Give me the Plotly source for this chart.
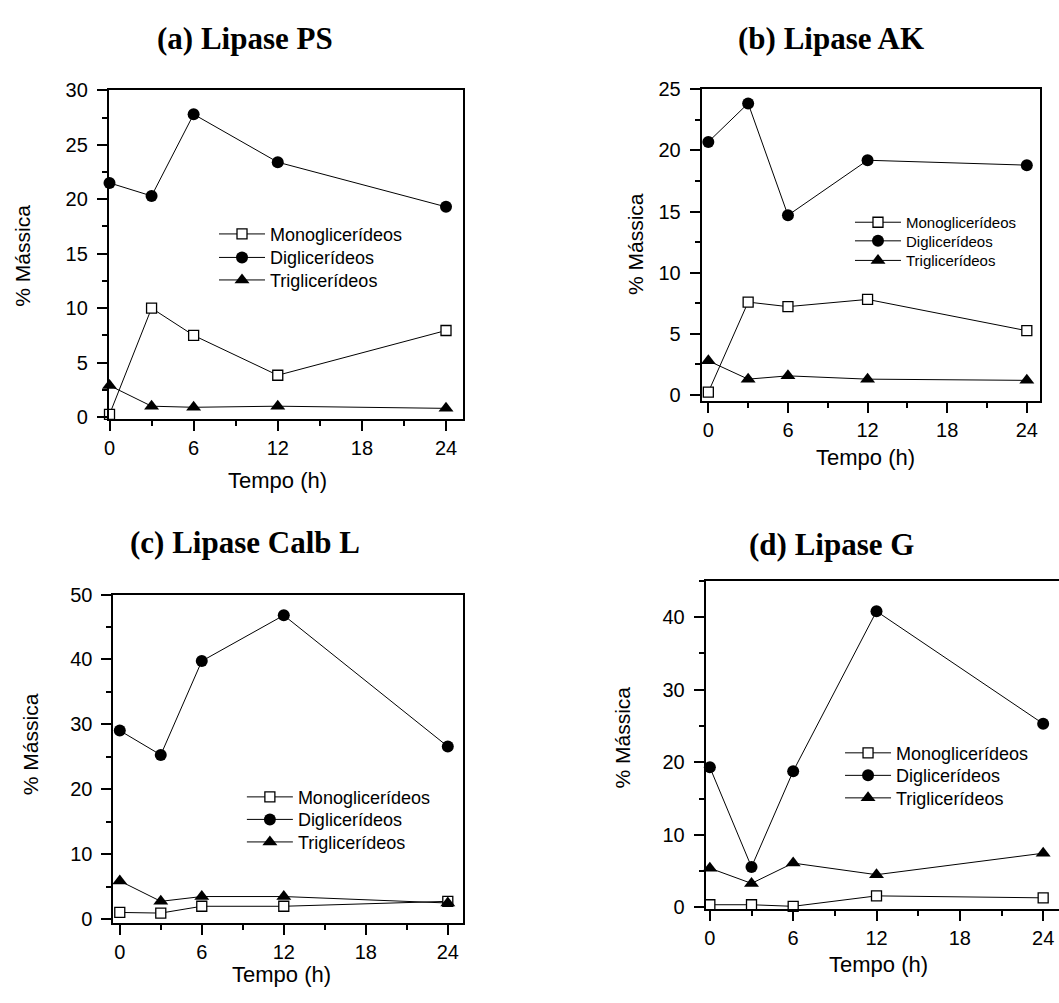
import plotly.graph_objects as go

W, H = 1059, 1003

tempo = [0, 3, 6, 12, 24]
series_names = ["Monoglicerídeos", "Diglicerídeos", "Triglicerídeos"]

# (a) Lipase PS
ps_mono = [0.24, 10.0, 7.5, 3.84, 7.95]
ps_di = [21.5, 20.3, 27.8, 23.4, 19.3]
ps_tri = [2.9, 1.0, 0.9, 1.0, 0.8]
# (b) Lipase AK
ak_mono = [0.24, 7.6, 7.23, 7.82, 5.26]
ak_di = [20.7, 23.85, 14.7, 19.2, 18.8]
ak_tri = [2.8, 1.3, 1.57, 1.3, 1.2]
# (c) Lipase Calb L
calb_mono = [1.05, 0.95, 2.0, 2.0, 2.76]
calb_di = [29.05, 25.3, 39.75, 46.8, 26.6]
calb_tri = [5.9, 2.76, 3.5, 3.5, 2.5]
# (d) Lipase G
g_mono = [0.36, 0.36, 0.14, 1.58, 1.31]
g_di = [19.3, 5.56, 18.76, 40.8, 25.3]
g_tri = [5.4, 3.3, 6.1, 4.5, 7.46]

panel_titles = ["(a) Lipase PS", "(b) Lipase AK", "(c) Lipase Calb L", "(d) Lipase G"]
x_title = "Tempo (h)"
y_title = "% Mássica"

panels = [
    dict(data=[ps_mono, ps_di, ps_tri], box=(104.3, 460, 81, 417), xr=[-0.05, 25.2], yr=[-0.2, 30],
         dy=5, minor_dy=2.5, legend=dict(x=242, rows=[228, 252, 275], size=18), title=(241, 28),
         ytitle=(18, 250), xtitle=(274, 480), mirror_right=True),
    dict(data=[ak_mono, ak_di, ak_tri], box=(700, 1040, 80, 398), xr=[-0.5, 25], yr=[-0.46, 25],
         dy=5, minor_dy=2.5, legend=dict(x=881, rows=[216, 235, 255], size=15), title=(830, 28),
         ytitle=(633, 238), xtitle=(865, 456), mirror_right=True),
    dict(data=[calb_mono, calb_di, calb_tri], box=(109, 460, 596, 931), xr=[-0.46, 25.1], yr=[-0.5, 50],
         dy=10, minor_dy=5, legend=dict(x=270, rows=[803, 826, 849], size=18), title=(241, 543),
         ytitle=(25, 749), xtitle=(278, 984), mirror_right=True),
    dict(data=[g_mono, g_di, g_tri], box=(704, 1059, 582, 917), xr=[-0.3, 25.14], yr=[-0.2, 45],
         dy=10, minor_dy=5, legend=dict(x=871, rows=[758, 781, 804], size=18), title=(830, 545),
         ytitle=(620, 742), xtitle=(878, 974), mirror_right=False),
]

markers = [
    dict(symbol="square", size=10, color="white", line=dict(color="black", width=1.3)),
    dict(symbol="circle", size=12, color="black", line=dict(color="black", width=0)),
    dict(symbol="triangle-up", size=13, color="black", line=dict(color="black", width=0)),
]

fig = go.Figure()
annotations = []
sans = "Arial, Liberation Sans, sans-serif"
tick_font = dict(family=sans, size=20, color="black")

leg_idx = 0
for i, p in enumerate(panels):
    n = "" if i == 0 else str(i + 1)
    xa, ya = "x" + n, "y" + n
    lg = p["legend"]
    for vals, name, mk, row in zip(p["data"], series_names, markers, lg["rows"]):
        leg_idx += 1
        leg = "legend" if leg_idx == 1 else "legend" + str(leg_idx)
        fig.add_trace(go.Scatter(
            x=tempo, y=vals, name=name, mode="lines+markers",
            line=dict(color="black", width=1), marker=mk,
            xaxis=xa, yaxis=ya, legend=leg, cliponaxis=False,
        ))
        fig.layout[leg] = dict(x=(lg["x"] - 32) / W, y=(H - row) / H, xanchor="left",
                               yanchor="middle", bgcolor="rgba(0,0,0,0)", borderwidth=0,
                               itemwidth=46,
                               font=dict(family=sans, size=lg["size"], color="black"))
    l, r, t, b = p["box"]
    axis_common = dict(showline=True, linecolor="black", linewidth=2, ticks="outside",
                       ticklen=10, tickwidth=1.5, tickcolor="black", showgrid=False,
                       zeroline=False, tickfont=tick_font)
    fig.layout["xaxis" + n] = dict(
        domain=[l / W, r / W], range=p["xr"], anchor=ya, tickmode="linear", tick0=0, dtick=6,
        mirror=True, minor=dict(ticks="outside", ticklen=5, tickwidth=1.5, tickcolor="black",
                                tick0=3, dtick=6, showgrid=False),
        **axis_common)
    fig.layout["yaxis" + n] = dict(
        domain=[(H - b) / H, (H - t) / H], range=p["yr"], anchor=xa, tickmode="linear", tick0=0,
        dtick=p["dy"], mirror=p["mirror_right"], ticklabelstandoff=5,
        minor=dict(ticks="outside", ticklen=5, tickwidth=1.5, tickcolor="black",
                   dtick=p["minor_dy"], showgrid=False),
        **axis_common)
    tx, ty = p["title"]
    annotations.append(dict(text="<b>" + panel_titles[i] + "</b>", x=tx / W, y=(H - ty) / H,
                            xref="paper", yref="paper", showarrow=False, xanchor="center",
                            yanchor="middle",
                            font=dict(family="Times New Roman, Liberation Serif, serif", size=31,
                                      color="black")))
    yx, yy = p["ytitle"]
    annotations.append(dict(text=y_title, x=yx / W, y=(H - yy) / H, xref="paper", yref="paper",
                            showarrow=False, textangle=-90, xanchor="center", yanchor="middle",
                            font=dict(family=sans, size=21, color="black")))
    xx, xy = p["xtitle"]
    annotations.append(dict(text=x_title, x=xx / W, y=(H - xy) / H, xref="paper", yref="paper",
                            showarrow=False, xanchor="center", yanchor="middle",
                            font=dict(family=sans, size=22, color="black")))

fig.update_layout(width=W, height=H, margin=dict(l=0, r=0, t=0, b=0),
                  paper_bgcolor="white", plot_bgcolor="white", annotations=annotations,
                  showlegend=True)

fig.write_html("out.html")
